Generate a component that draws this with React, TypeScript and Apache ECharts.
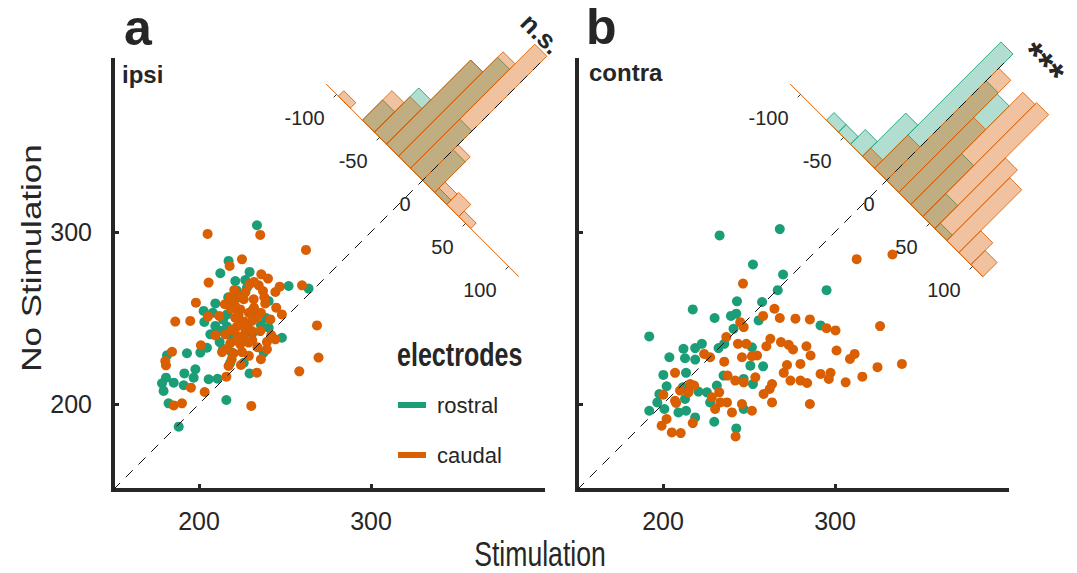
import React, { useEffect, useRef } from "react";
import * as echarts from "echarts";

const FONT = "'Liberation Sans', Arial, Helvetica, sans-serif";
const GREEN = "#1b9e77";
const ORANGE = "#d95f02";
const INK = "#262626";

// ---- axes ----
const axisMin = 150;
const axisMax = 400;
const scatterTicks = [200, 300];
const histTicks = [-100, -50, 0, 50, 100];

// ---- scatter data: [Stimulation, No Stimulation] ----
const ipsiRostral = [
  [233.7, 303.9], [217.2, 283.2], [212.4, 276.0], [229.4, 276.8], [221.1, 271.5], [226.9, 272.1],
  [252.1, 268.6], [263.7, 267.1], [209.5, 258.5], [240.5, 259.9], [202.7, 254.1], [230.8, 254.1],
  [203.1, 247.7], [209.5, 245.4], [216.3, 245.0], [206.6, 240.5], [240.5, 244.4], [248.2, 238.5],
  [204.6, 232.7], [200.8, 229.9], [237.6, 229.9], [193.0, 229.5], [181.4, 228.3], [197.9, 220.2],
  [218.2, 224.0], [191.5, 217.8], [196.9, 215.3], [229.4, 217.8], [205.6, 214.4], [210.8, 214.7],
  [180.8, 215.3], [178.5, 212.0], [185.3, 212.4], [179.4, 207.6], [191.1, 210.9], [182.3, 200.4],
  [215.9, 202.3], [188.2, 186.8], [216.3, 252.1], [213.4, 242.4], [227.9, 267.7], [223.0, 262.0],
  [212.0, 236.0], [214.0, 249.0], [218.0, 240.0], [224.0, 247.0], [211.0, 243.0], [219.0, 230.0],
  [226.0, 224.0], [236.0, 246.0], [239.0, 250.0], [222.0, 266.0], [217.0, 262.0], [208.0, 253.0],
  [231.0, 241.0], [214.0, 232.0],
];
const ipsiCaudal = [
  [235.6, 298.3], [205.0, 298.9], [262.2, 289.6], [225.0, 284.1], [217.8, 280.3], [236.2, 275.4],
  [240.1, 272.9], [205.6, 270.6], [229.4, 269.6], [234.7, 269.0], [237.2, 265.7], [259.9, 269.0],
  [246.9, 268.2], [244.4, 265.1], [220.5, 266.3], [224.0, 262.8], [198.2, 258.9], [220.1, 258.9],
  [231.8, 260.9], [238.5, 258.5], [244.9, 256.0], [248.2, 252.1], [218.6, 255.4], [224.0, 255.0],
  [205.2, 250.8], [211.8, 251.2], [233.7, 250.2], [241.5, 249.2], [186.2, 247.9], [194.9, 248.3],
  [221.1, 250.2], [268.6, 245.7], [227.9, 245.4], [230.8, 242.4], [209.5, 239.9], [215.3, 240.5],
  [222.5, 239.5], [226.0, 239.5], [244.4, 237.6], [239.5, 236.1], [218.2, 235.3], [224.0, 234.7],
  [228.9, 235.7], [201.1, 234.1], [213.4, 230.2], [220.1, 229.5], [225.0, 230.2], [239.5, 231.8],
  [184.3, 230.4], [180.4, 225.0], [180.8, 222.5], [269.5, 227.0], [217.2, 222.1], [224.4, 222.7],
  [215.9, 215.9], [233.7, 218.2], [258.3, 219.0], [195.3, 209.5], [203.3, 207.0], [185.3, 199.2],
  [190.1, 200.4], [230.4, 198.9], [226.0, 260.9], [230.8, 248.3], [235.6, 242.4], [222.0, 245.0],
  [219.0, 226.0], [218.0, 262.0], [221.0, 257.0], [223.0, 252.0], [226.0, 248.0], [229.0, 253.0],
  [232.0, 256.0], [236.0, 253.0], [227.0, 243.0], [231.0, 237.0], [234.0, 233.0], [219.0, 243.0],
  [222.0, 237.0], [216.0, 232.0], [229.0, 228.0], [236.0, 226.0], [242.0, 240.0], [238.0, 262.0],
  [227.0, 265.0], [232.0, 271.0], [215.0, 258.0],
];
const contraRostral = [
  [232.9, 298.0], [267.9, 301.7], [252.3, 281.1], [269.8, 275.3], [266.7, 266.2], [295.1, 266.2],
  [243.0, 259.7], [257.6, 259.3], [217.3, 255.0], [230.0, 250.0], [239.5, 251.2], [242.6, 252.5],
  [255.6, 248.6], [192.0, 239.3], [241.0, 243.7], [291.6, 245.7], [211.9, 232.1], [218.7, 232.5],
  [222.6, 235.0], [203.7, 227.2], [212.8, 226.6], [218.7, 225.8], [232.3, 232.5], [235.6, 235.0],
  [251.7, 233.0], [200.2, 216.9], [213.4, 218.1], [235.2, 216.5], [258.2, 221.9], [202.1, 210.3],
  [211.5, 209.7], [231.3, 210.7], [252.3, 211.6], [246.9, 214.6], [197.9, 205.8], [196.7, 200.9],
  [212.8, 202.9], [220.6, 207.2], [225.5, 206.8], [227.4, 200.9], [192.0, 196.1], [200.8, 197.1],
  [209.0, 195.1], [213.4, 196.1], [218.7, 192.2], [229.8, 189.7], [242.6, 185.8], [246.9, 197.1],
  [250.8, 222.3],
];
const contraCaudal = [
  [246.5, 270.0], [312.6, 284.2], [333.4, 286.9], [264.8, 255.4], [258.2, 251.2], [267.9, 250.0],
  [277.0, 249.6], [285.4, 249.2], [244.9, 247.6], [246.9, 244.7], [295.1, 244.1], [300.3, 242.8],
  [326.2, 245.3], [236.8, 238.9], [262.4, 237.9], [243.6, 235.0], [248.4, 235.0], [260.1, 233.6],
  [268.6, 236.0], [273.1, 234.4], [275.6, 231.7], [283.4, 233.6], [285.8, 228.2], [300.9, 231.1],
  [308.7, 226.2], [311.4, 229.1], [223.9, 229.1], [227.4, 227.2], [235.6, 224.6], [245.9, 227.2],
  [251.7, 227.8], [254.7, 228.2], [272.1, 222.7], [279.9, 223.3], [324.7, 221.4], [338.9, 223.3],
  [207.0, 218.1], [237.5, 216.5], [242.0, 213.6], [246.9, 212.6], [253.7, 215.5], [270.2, 218.1],
  [274.1, 213.6], [279.9, 213.6], [283.8, 212.2], [291.6, 217.5], [297.4, 218.1], [296.4, 214.6],
  [306.2, 212.6], [315.9, 215.9], [215.8, 211.6], [218.1, 210.7], [209.9, 207.8], [214.8, 206.8],
  [200.2, 205.4], [207.0, 201.9], [232.7, 206.8], [228.4, 203.9], [230.3, 197.1], [237.2, 200.9],
  [240.1, 195.1], [245.9, 200.0], [251.7, 196.1], [258.5, 205.8], [263.4, 211.6], [262.0, 208.7],
  [263.4, 200.9], [285.4, 200.0], [202.1, 191.3], [199.2, 187.4], [205.1, 183.5], [210.3, 183.1],
  [217.3, 188.9], [242.2, 181.1], [233.3, 200.9], [207.6, 200.6],
];

// ---- histograms of (Stimulation − No Stimulation): bin starts and counts ----
const ipsiBins = [-98, -84, -70, -56, -42, -28, -14, 0, 14, 28, 42];
const ipsiRostralCounts = [0, 0, 3.7, 8.1, 15.4, 18.1, 9.0, 5.6, 0.8, 0, 0];
const ipsiCaudalCounts = [1.0, 0, 5.4, 6.5, 15.4, 19.1, 22.7, 6.5, 1.9, 2.2, 1.0];
const contraBins = [-70, -56, -42, -28, -14, 0, 14, 28, 42, 56, 70, 84, 98];
const contraRostralCounts = [1.4, 1.4, 2.7, 7.9, 23.1, 18.2, 18.0, 9.3, 4.2, 1.0, 0, 0, 0];
const contraCaudalCounts = [0, 0, 0, 1.5, 6.1, 20.5, 13.7, 20.5, 20.8, 12.9, 11.5, 4.0, 2.6];

// histogram geometry (data units of the scatter axes)
const BIN_WIDTH = 14;
const HIST_CENTER = 330; // histogram zero lies on x = y = 330
const HIST_UNIT = 4.5; // data units per count, measured perpendicular to the axis
const HIST_HALF = 112; // histogram axis spans -112 .. 112
const TICK_LEN = 2.4;

function histSeries(grid: number, bins: number[], counts: number[], color: string, fill: string, z: number) {
  const C = HIST_CENTER;
  return {
    type: "custom",
    xAxisIndex: grid,
    yAxisIndex: grid,
    clip: false,
    silent: true,
    z,
    data: bins.map((b, i) => [b, counts[i]]),
    renderItem: (_params: any, api: any) => {
      const d0 = api.value(0) as number;
      const n = api.value(1) as number;
      if (!(n > 0)) return null;
      const d1 = d0 + BIN_WIDTH;
      const off = (n * HIST_UNIT) / Math.SQRT2;
      const pts = [
        [C + d0 / 2, C - d0 / 2],
        [C + d1 / 2, C - d1 / 2],
        [C + d1 / 2 + off, C - d1 / 2 + off],
        [C + d0 / 2 + off, C - d0 / 2 + off],
      ].map((p) => api.coord(p));
      return {
        type: "polygon",
        shape: { points: pts },
        style: { fill, stroke: color, lineWidth: 1 },
      };
    },
  };
}

function histAxisSeries(grid: number) {
  const C = HIST_CENTER;
  return [
    {
      type: "line",
      xAxisIndex: grid,
      yAxisIndex: grid,
      data: [
        [C - HIST_HALF / 2, C + HIST_HALF / 2],
        [C + HIST_HALF / 2, C - HIST_HALF / 2],
      ],
      symbol: "none",
      silent: true,
      clip: false,
      z: 2,
      lineStyle: { color: ORANGE, width: 1 },
    },
    {
      type: "custom",
      xAxisIndex: grid,
      yAxisIndex: grid,
      clip: false,
      silent: true,
      z: 4,
      data: histTicks.map((t) => [t, 0]),
      renderItem: (_params: any, api: any) => {
        const d = api.value(0) as number;
        const bx = C + d / 2;
        const by = C - d / 2;
        const k = TICK_LEN / Math.SQRT2;
        const p0 = api.coord([bx, by]);
        const p1 = api.coord([bx - k, by - k]);
        return {
          type: "group",
          children: [
            {
              type: "line",
              shape: { x1: p0[0], y1: p0[1], x2: p1[0], y2: p1[1] },
              style: { stroke: "#333", lineWidth: 1 },
            },
            {
              type: "text",
              x: p0[0] - 12,
              y: p0[1] + 24,
              style: {
                text: String(d),
                fontSize: 20,
                fontFamily: FONT,
                fill: INK,
                align: "right",
                verticalAlign: "middle",
                textAlign: "right",
                textVerticalAlign: "middle",
              },
            },
          ],
        };
      },
    },
  ];
}

function makeAxis(grid: number, showLabels: boolean, isY: boolean) {
  return {
    gridIndex: grid,
    type: "value",
    min: axisMin,
    max: axisMax,
    splitLine: { show: false },
    axisLine: { show: true, onZero: false, lineStyle: { color: INK, width: 4, cap: "square" } },
    axisTick: {
      show: true,
      inside: true,
      length: 6,
      customValues: scatterTicks,
      lineStyle: { color: INK, width: 3 },
    },
    axisLabel: {
      show: showLabels,
      customValues: scatterTicks,
      fontSize: 25,
      color: INK,
      fontFamily: FONT,
      margin: isY ? 21 : 18,
    },
  };
}

function txt(text: string, x: number, y: number, size: number, opts: any = {}) {
  return {
    type: "text",
    x,
    y,
    rotation: opts.rotation || 0,
    scaleX: opts.scaleX || 1,
    scaleY: opts.scaleY || 1,
    silent: true,
    z: 10,
    style: {
      text,
      fontSize: size,
      fontWeight: opts.bold ? "bold" : "normal",
      fontFamily: FONT,
      fill: INK,
      align: opts.align || "left",
      verticalAlign: "middle",
      textAlign: opts.align || "left",
      textVerticalAlign: "middle",
    },
  };
}

function buildOption() {
  const identity = (grid: number) => ({
    type: "line",
    xAxisIndex: grid,
    yAxisIndex: grid,
    data: [
      [axisMin, axisMin],
      [axisMax, axisMax],
    ],
    symbol: "none",
    silent: true,
    z: 6,
    lineStyle: { color: "#111", width: 1, type: [10, 8] },
  });
  const scatter = (name: string, grid: number, data: number[][], color: string, z: number) => ({
    type: "scatter",
    name,
    xAxisIndex: grid,
    yAxisIndex: grid,
    data,
    symbolSize: 10,
    silent: true,
    z,
    itemStyle: { color, opacity: 1 },
  });
  const gFill = "rgba(27,158,119,0.34)";
  const oFill = "rgba(217,95,2,0.38)";
  const gEdge = "rgba(27,158,119,0.85)";
  const oEdge = "rgba(217,95,2,0.85)";

  return {
    animation: false,
    backgroundColor: "#ffffff",
    grid: [
      { left: 113, top: 60, width: 430, height: 430, containLabel: false, outerBoundsMode: "none" },
      { left: 577, top: 60, width: 430, height: 430, containLabel: false, outerBoundsMode: "none" },
    ],
    xAxis: [makeAxis(0, true, false), makeAxis(1, true, false)],
    yAxis: [makeAxis(0, true, true), makeAxis(1, false, true)],
    legend: {
      data: ["rostral", "caudal"],
      orient: "vertical",
      left: 398,
      top: 394,
      padding: 0,
      icon: "rect",
      itemWidth: 28,
      itemHeight: 6,
      itemGap: 28,
      selectedMode: false,
      textStyle: { fontSize: 22, color: INK, fontFamily: FONT, padding: [0, 0, 0, 6] },
    },
    graphic: [
      txt("a", 124, 28, 50, { bold: true }),
      txt("b", 586, 27, 50, { bold: true }),
      txt("ipsi", 122, 74, 24, { bold: true }),
      txt("contra", 589, 72, 24, { bold: true }),
      txt("electrodes", 397, 354, 33, { bold: true, scaleX: 0.76 }),
      txt("n.s.", 541, 34, 26, { bold: true, align: "center", rotation: -Math.PI / 4 }),
      txt("***", 1042, 64, 38, { bold: true, align: "center", rotation: -Math.PI / 4 }),
      txt("No Stimulation", 31, 258, 35, { align: "center", rotation: Math.PI / 2, scaleY: 0.8 }),
      txt("Stimulation", 540, 554, 35, { align: "center", scaleX: 0.76 }),
    ],
    series: [
      histSeries(0, ipsiBins, ipsiRostralCounts, gEdge, gFill, 2),
      histSeries(0, ipsiBins, ipsiCaudalCounts, oEdge, oFill, 2),
      histSeries(1, contraBins, contraRostralCounts, gEdge, gFill, 2),
      histSeries(1, contraBins, contraCaudalCounts, oEdge, oFill, 2),
      ...histAxisSeries(0),
      ...histAxisSeries(1),
      scatter("rostral", 0, ipsiRostral, GREEN, 3),
      scatter("caudal", 0, ipsiCaudal, ORANGE, 3),
      scatter("rostral", 1, contraRostral, GREEN, 3),
      scatter("caudal", 1, contraCaudal, ORANGE, 3),
      identity(0),
      identity(1),
    ],
  };
}

export default function App() {
  const ref = useRef<HTMLDivElement>(null);
  useEffect(() => {
    if (!ref.current) return;
    const chart = echarts.init(ref.current, null, { renderer: "svg" });
    chart.setOption(buildOption() as any);
    return () => chart.dispose();
  }, []);
  return (
    <div
      ref={ref}
      style={{ position: "fixed", left: 0, top: 0, width: 1077, height: 573, background: "#fff" }}
    />
  );
}
